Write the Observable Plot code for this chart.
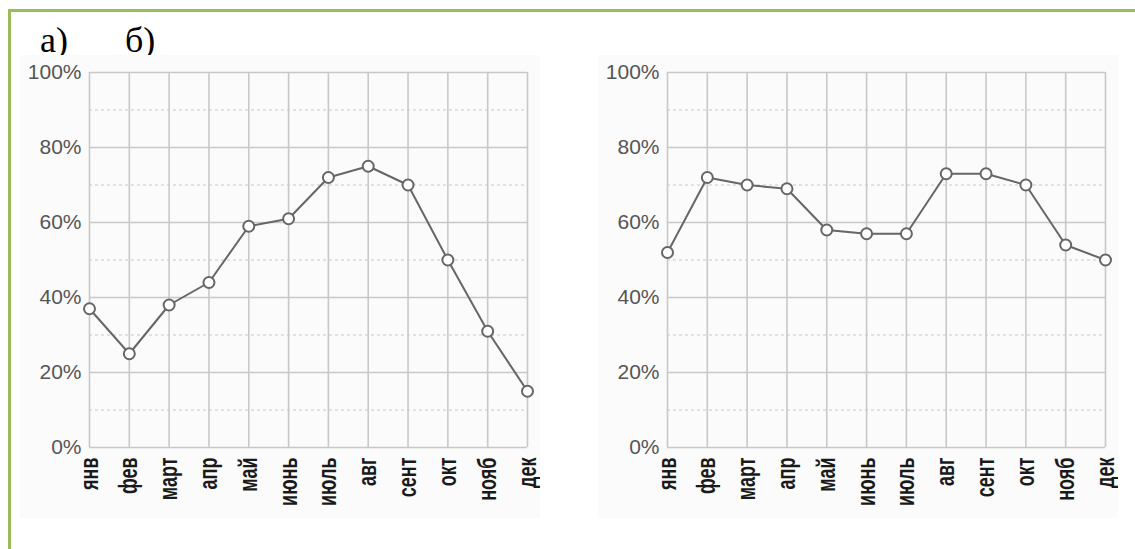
<!DOCTYPE html>
<html>
<head>
<meta charset="utf-8">
<script src="https://cdn.jsdelivr.net/npm/d3@7"></script>
<script src="https://cdn.jsdelivr.net/npm/@observablehq/plot@0.6"></script>
<style>
  html, body { margin: 0; padding: 0; background: #fff; }
  #page { position: relative; width: 1135px; height: 549px; overflow: hidden; background: #fff; }
  #frame { position: absolute; left: 8px; top: 9px; width: 1200px; height: 620px; border: 3px solid #9bbb59; box-sizing: border-box; }
  .lbl { position: absolute; font-family: "Liberation Serif", "DejaVu Serif", serif; font-size: 36px; color: #000; line-height: 1; }
  .chart { position: absolute; }
</style>
</head>
<body>
<div id="page">
  <div id="frame"></div>
  <div class="lbl" style="left:40px; top:22px;">а)</div>
  <div class="lbl" style="left:125px; top:22px;">б)</div>
  <div id="chartA" class="chart" style="left:20px; top:55px;"></div>
  <div id="chartB" class="chart" style="left:598px; top:55px;"></div>
</div>
<script>
const months = ["янв", "фев", "март", "апр", "май", "июнь", "июль", "авг", "сент", "окт", "нояб", "дек"];
const valuesA = [37, 25, 38, 44, 59, 61, 72, 75, 70, 50, 31, 15];
const valuesB = [52, 72, 70, 69, 58, 57, 57, 73, 73, 70, 54, 50];
const majorTicks = [0, 20, 40, 60, 80, 100];
const minorTicks = [10, 30, 50, 70, 90];

function chart(values) {
  const data = months.map((m, i) => ({month: m, value: values[i]}));
  return Plot.plot({
    width: 520,
    height: 463,
    marginLeft: 69,
    marginRight: 13,
    marginTop: 17,
    marginBottom: 71,
    style: {fontFamily: "'Liberation Sans', Arial, sans-serif", background: "#fbfbfb"},
    x: {type: "point", domain: months, padding: 0, round: false, axis: null},
    y: {domain: [0, 100], axis: null},
    marks: [
      Plot.ruleY(minorTicks, {stroke: "#c8c8c8", strokeWidth: 1.2, strokeDasharray: "3,3"}),
      Plot.ruleX(months, {stroke: "#c8c8c8", strokeWidth: 1.6}),
      Plot.ruleY(majorTicks, {stroke: "#c8c8c8", strokeWidth: 1.6}),
      Plot.axisY({ticks: majorTicks, tickFormat: d => d + "%", tickSize: 0, tickPadding: 8, fontSize: 21, fill: "#555", label: null}),
      Plot.axisX({tickRotate: -90, tickSize: 0, tickPadding: 10, fontSize: 25, fontWeight: "bold", fill: "#1a1a1a", label: null}),
      Plot.line(data, {x: "month", y: "value", stroke: "#666", strokeWidth: 2}),
      Plot.dot(data, {x: "month", y: "value", r: 5.5, fill: "#fff", stroke: "#666", strokeWidth: 2})
    ]
  });
}

function condense(svg) {
  d3.select(svg).selectAll('g[aria-label="x-axis tick label"] text').each(function() {
    const len = this.getComputedTextLength();
    this.setAttribute("textLength", (len * 0.72).toFixed(1));
    this.setAttribute("lengthAdjust", "spacingAndGlyphs");
  });
}

const a = chart(valuesA);
document.getElementById("chartA").appendChild(a);
condense(a);
const b = chart(valuesB);
document.getElementById("chartB").appendChild(b);
condense(b);
</script>
</body>
</html>
